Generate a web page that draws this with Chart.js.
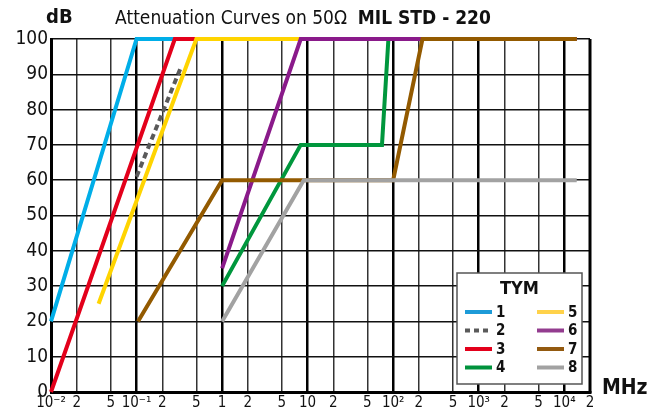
<!DOCTYPE html>
<html>
<head>
<meta charset="utf-8">
<script src="https://cdn.jsdelivr.net/npm/chart.js@4"></script>
<style>
  html, body { margin: 0; padding: 0; background: #fff; }
  #wrap { width: 661px; height: 414px; position: relative; }
</style>
</head>
<body>
<div id="wrap"><canvas id="c" width="661" height="414"></canvas></div>
<script>
// frequency (MHz) / attenuation (dB) points for each TYM curve
const tym1Freq = [0.01, 0.1, 14000];
const tym1Db   = [20, 100, 100];
const tym2Freq = [0.1, 0.33];
const tym2Db   = [61, 92];
const tym3Freq = [0.01, 0.28, 14000];
const tym3Db   = [0, 100, 100];
const tym4Freq = [1, 8.3, 74, 88, 14000];
const tym4Db   = [30, 70, 70, 100, 100];
const tym5Freq = [0.036, 0.5, 14000];
const tym5Db   = [25, 100, 100];
const tym6Freq = [1, 8.3, 14000];
const tym6Db   = [35, 100, 100];
const tym7Freq = [0.104, 1, 100, 220, 14000];
const tym7Db   = [20, 60, 60, 100, 100];
const tym8Freq = [1, 9, 14000];
const tym8Db   = [20, 60, 60];

const seriesNames = ['1', '2', '3', '4', '5', '6', '7', '8'];
const seriesColors = ['#00aee8', '#5a5a5a', '#e3001b', '#00973d', '#ffd400', '#8a1a8a', '#935a00', '#a2a2a2'];
const legendColors = ['#1d9bd8', '#5a5a5a', '#e3001b', '#00923c', '#ffd24a', '#933c8f', '#935a10', '#a2a2a2'];

const xTickValues = [0.01, 0.02, 0.05, 0.1, 0.2, 0.5, 1, 2, 5, 10, 20, 50, 100, 200, 500, 1000, 2000, 5000, 10000, 20000];
const xTickLabels = ['10\u207B\u00B2', '2', '5', '10\u207B\u00B9', '2', '5', '1', '2', '5', '10', '2', '5', '10\u00B2', '2', '5', '10\u00B3', '2', '5', '10\u2074', '2'];

const FONT = '"Liberation Sans Narrow", "DejaVu Sans Condensed", "Liberation Sans", sans-serif';

const allFreq = [tym1Freq, tym2Freq, tym3Freq, tym4Freq, tym5Freq, tym6Freq, tym7Freq, tym8Freq];
const allDb = [tym1Db, tym2Db, tym3Db, tym4Db, tym5Db, tym6Db, tym7Db, tym8Db];

const datasets = allFreq.map((f, i) => ({
    label: seriesNames[i],
    data: f.map((x, j) => ({ x: x, y: allDb[i][j] })),
    borderColor: seriesColors[i],
    backgroundColor: seriesColors[i],
    borderWidth: 4,
    borderDash: i === 1 ? [6, 4] : [],
    pointRadius: 0,
    fill: false,
    tension: 0,
    clip: 6,
    order: 7 - i, // later curves sit on top
}));

const isDecade = (v) => Math.abs(Math.log10(v) - Math.round(Math.log10(v))) < 1e-9;

// title, axis units, right border and the TYM legend box
const decorPlugin = {
    id: 'decor',
    afterDraw(chart) {
        const ctx = chart.ctx;
        const a = chart.chartArea;
        ctx.save();
        // right frame
        ctx.strokeStyle = '#000';
        ctx.lineWidth = 3;
        ctx.beginPath();
        ctx.moveTo(a.right, a.top);
        ctx.lineTo(a.right, a.bottom + 1);
        ctx.stroke();

        ctx.fillStyle = '#111';
        ctx.textBaseline = 'middle';
        ctx.textAlign = 'left';
        ctx.font = 'bold 20px ' + FONT;
        ctx.fillText('dB', 46, 18);
        ctx.font = 'bold 21px ' + FONT;
        ctx.fillText('MHz', 602, 389);

        // title: normal part + bold part
        const t1 = 'Attenuation Curves on 50\u03A9  ';
        const t2 = 'MIL STD - 220';
        ctx.font = '19px ' + FONT;
        const w1 = ctx.measureText(t1).width;
        ctx.font = 'bold 19px ' + FONT;
        const w2 = ctx.measureText(t2).width;
        const x0 = 303 - (w1 + w2) / 2;
        ctx.font = '19px ' + FONT;
        ctx.fillText(t1, x0, 19);
        ctx.font = 'bold 19px ' + FONT;
        ctx.fillText(t2, x0 + w1, 19);

        // legend
        const bx = 457, by = 273, bw = 125, bh = 111;
        ctx.fillStyle = '#fff';
        ctx.fillRect(bx, by, bw, bh);
        ctx.strokeStyle = '#555';
        ctx.lineWidth = 1.5;
        ctx.strokeRect(bx, by, bw, bh);
        ctx.fillStyle = '#111';
        ctx.textAlign = 'center';
        ctx.font = 'bold 18px ' + FONT;
        ctx.fillText('TYM', bx + bw / 2, by + 16);
        ctx.font = 'bold 15px ' + FONT;
        ctx.textAlign = 'left';
        seriesNames.forEach((name, i) => {
            const col = Math.floor(i / 4);
            const row = i % 4;
            const lx = bx + 8 + col * 72;
            const ly = by + 39 + row * 18.5;
            ctx.strokeStyle = legendColors[i];
            ctx.lineWidth = 4;
            ctx.setLineDash(i === 1 ? [5, 4] : []);
            ctx.beginPath();
            ctx.moveTo(lx, ly);
            ctx.lineTo(lx + 27, ly);
            ctx.stroke();
            ctx.setLineDash([]);
            ctx.fillStyle = '#111';
            ctx.fillText(name, lx + 31, ly + 1);
        });
        ctx.restore();
    }
};

const ctx = document.getElementById('c').getContext('2d');
new Chart(ctx, {
    type: 'line',
    data: { datasets: datasets },
    options: {
        responsive: false,
        animation: false,
        layout: { padding: { top: 39, right: 71, left: 0, bottom: 0 } },
        plugins: {
            legend: { display: false },
            tooltip: { enabled: false },
            title: { display: false },
        },
        scales: {
            x: {
                type: 'logarithmic',
                min: 0.01,
                max: 20000,
                afterBuildTicks: (scale) => {
                    scale.ticks = xTickValues.map(v => ({ value: v }));
                },
                afterFit: (scale) => { scale.height = 22; },
                ticks: {
                    autoSkip: false,
                    maxRotation: 0,
                    padding: 2,
                    color: '#111',
                    font: { family: FONT, size: 15 },
                    callback: (v) => {
                        const k = xTickValues.findIndex(t => Math.abs(t - v) / t < 1e-6);
                        return k >= 0 ? xTickLabels[k] : '';
                    },
                },
                grid: {
                    drawTicks: false,
                    color: (c) => (c.tick && isDecade(c.tick.value) ? '#000' : '#333'),
                    lineWidth: (c) => (c.tick && isDecade(c.tick.value) ? 2.5 : 1.5),
                },
                border: { color: '#000', width: 3 },
            },
            y: {
                min: 0,
                max: 100,
                afterFit: (scale) => { scale.width = 51; },
                ticks: {
                    stepSize: 5,
                    padding: 3,
                    color: '#111',
                    font: { family: FONT, size: 19 },
                    callback: (v) => (v % 10 === 0 ? String(v) : ''),
                },
                grid: {
                    drawTicks: false,
                    color: (c) => (c.tick && c.tick.value % 10 === 0 ? '#111' : '#444'),
                    lineWidth: 1.5,
                },
                border: { color: '#000', width: 3 },
            },
        },
    },
    plugins: [decorPlugin],
});
</script>
</body>
</html>
